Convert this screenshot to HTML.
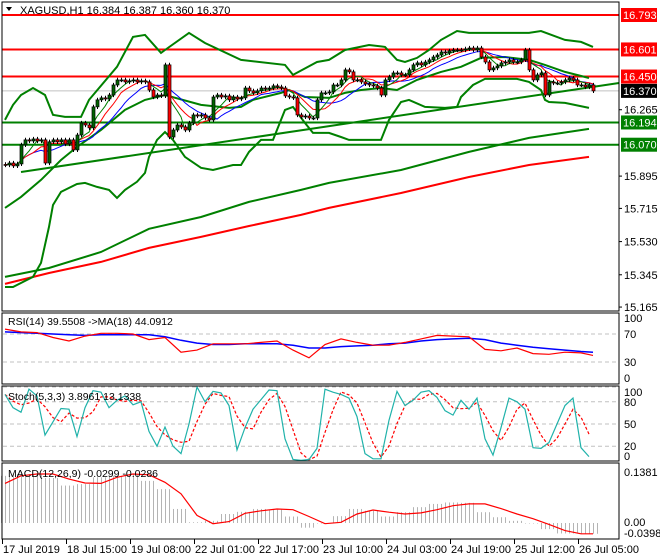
<!DOCTYPE html>
<html><head><meta charset="utf-8"><style>
html,body{margin:0;padding:0;background:#fff;}
svg{display:block;font-family:"Liberation Sans",Arial,sans-serif;}
</style></head><body>
<svg id="chart" width="660" height="560" viewBox="0 0 660 560" xmlns="http://www.w3.org/2000/svg">
<defs>
<pattern id="histPat" patternUnits="userSpaceOnUse" x="0" y="0" width="4" height="10"><rect x="1" y="0" width="1" height="10" fill="#b4b4b4"/></pattern>
</defs>
<rect x="0" y="0" width="660" height="560" fill="#fff"/>
<g id="main"></g>
<g id="rsi"></g>
<g id="stoch"></g>
<g id="macd"></g>
<g id="frames">
<rect x="2" y="2" width="617" height="309" fill="none" stroke="#000"/>
<rect x="2" y="313" width="617" height="71" fill="none" stroke="#000"/>
<rect x="2" y="386" width="617" height="75" fill="none" stroke="#000"/>
<rect x="2" y="463" width="617" height="76" fill="none" stroke="#000"/>
</g>
<g id="axis"></g>
<g id="taxis"></g>
<text x="20" y="14" font-size="11" fill="#000">XAGUSD,H1  16.384 16.387 16.360 16.370</text>
<path d="M6 7 L12 7 L9 11 Z" fill="#000"/>
<text x="8" y="325" font-size="10.5" fill="#000">RSI(14) 39.5508  -&gt;MA(18) 44.0912</text>
<text x="8" y="400" font-size="10.5" fill="#000">Stoch(5,3,3) 3.8961 13.1338</text>
<text x="8" y="477" font-size="10.5" fill="#000">MACD(12,26,9) -0.0299 -0.0286</text>
</svg>
<script>
// ---------- DATA ----------
const closes = [15.957,15.968,15.952,15.963,16.069,16.097,16.091,16.102,16.091,16.097,15.968,16.086,16.097,16.086,16.097,16.074,16.097,16.041,16.124,16.191,
16.180,16.164,16.281,16.320,16.331,16.325,16.347,16.403,16.431,16.431,16.420,16.426,16.431,16.420,16.426,16.420,16.375,16.336,16.347,16.342,
16.515,16.113,16.152,16.180,16.169,16.152,16.191,16.236,16.230,16.236,16.219,16.208,16.336,16.347,16.336,16.342,16.320,16.336,16.325,16.331,
16.386,16.370,16.359,16.370,16.386,16.381,16.386,16.398,16.392,16.386,16.342,16.336,16.331,16.236,16.225,16.230,16.219,16.219,16.320,16.359,
16.359,16.364,16.403,16.403,16.431,16.487,16.476,16.431,16.431,16.420,16.409,16.403,16.398,16.386,16.347,16.431,16.448,16.470,16.470,16.459,
16.459,16.487,16.515,16.526,16.515,16.531,16.543,16.559,16.570,16.587,16.582,16.593,16.598,16.598,16.598,16.604,16.609,16.598,16.609,16.559,
16.531,16.487,16.498,16.509,16.526,16.531,16.543,16.531,16.531,16.543,16.598,16.487,16.431,16.459,16.470,16.347,16.420,16.414,16.414,16.420,
16.431,16.442,16.431,16.403,16.403,16.392,16.403,16.370];
const bbUpIdx = [0,2,4,7,10,12,15,19,21,28,32,35,39,40,46,50,59,70,72,78,81,85,91,95,98,100,103,106,109,113,116,121,131,134,140,144,147];
const bbUpVal = [16.208,16.292,16.347,16.386,16.347,16.236,16.225,16.225,16.320,16.504,16.671,16.682,16.582,16.598,16.693,16.637,16.543,16.515,16.459,16.531,16.543,16.598,16.626,16.615,16.543,16.531,16.554,16.598,16.654,16.704,16.693,16.693,16.693,16.704,16.654,16.643,16.615];
const bbMidIdx = [0,4,9,14,18,24,30,35,40,49,56,59,62,69,71,75,81,85,89,94,98,103,109,114,119,125,131,135,140,146];
const bbMidVal = [15.718,15.779,15.874,15.985,16.058,16.152,16.264,16.320,16.347,16.292,16.275,16.281,16.320,16.359,16.375,16.336,16.331,16.359,16.375,16.386,16.375,16.431,16.476,16.504,16.554,16.559,16.543,16.515,16.476,16.442];
const bbLoIdx = [0,2,7,9,11,12,14,18,20,23,26,28,30,33,35,36,38,40,42,45,49,52,57,59,61,64,67,70,72,75,77,81,84,86,94,96,99,101,105,110,113,114,117,120,128,131,134,135,136,140,146];
const bbLoVal = [15.277,15.277,15.333,15.411,15.612,15.734,15.807,15.851,15.857,15.835,15.818,15.773,15.818,15.863,15.913,16.002,16.097,16.141,16.097,16.002,15.941,15.929,15.957,15.957,16.030,16.097,16.097,16.264,16.281,16.191,16.136,16.136,16.113,16.097,16.097,16.208,16.308,16.320,16.281,16.275,16.281,16.336,16.403,16.437,16.437,16.420,16.375,16.320,16.308,16.303,16.275];
const ma100Idx = [0,11,24,36,49,61,74,81,99,116,131,146];
const ma100Val = [15.333,15.383,15.472,15.601,15.667,15.751,15.818,15.857,15.929,16.030,16.108,16.158];
const ma200Idx = [0,11,24,36,49,61,74,81,99,116,131,146];
const ma200Val = [15.294,15.355,15.417,15.495,15.556,15.617,15.679,15.718,15.801,15.890,15.957,16.002];
const trendIdx = [4,154];
const trendVal = [15.918,16.414];
const redLevels = [16.793,16.601,16.450];
const greenLevels = [16.194,16.070];
const lastPrice = 16.370;
const axisTicks = ["16.265","15.895","15.715","15.530","15.345","15.165"];
// RSI sampled every 4 bars (last at bar 147)
const rsiIdx = [0,4,8,12,16,20,24,28,32,36,40,44,48,52,56,60,64,68,72,76,80,84,88,92,96,100,104,108,112,116,120,124,128,132,136,140,144,147];
const rsiVal = [77,73,72,65,60,67,71,71,70,62,65,44,47,56,56,56,58,60,47,36,55,63,58,54,54,58,63,68,67,66,48,46,50,42,41,44,43,39.5];
const rsiMaVal = [73,72,71,70,69,68,69,69,69,69,66,61,57,55,55,56,56,56,54,50,50,52,53,54,56,57,60,62,63,64,62,57,54,51,49,47,45,44];
// Stochastic main sampled every 2 bars
const stochMain = [90,72,66,97,88,35,53,71,70,33,72,95,93,72,82,88,76,80,40,20,46,20,10,50,100,80,94,92,75,15,45,70,83,96,95,30,2,1,2,17,97,93,90,85,60,10,3,3,55,94,75,82,93,95,86,68,62,82,70,85,30,8,45,85,80,70,18,17,25,50,75,85,18,6];
// MACD sampled every 4 bars
const macdIdx = rsiIdx;
const macdHist = [0.131,0.136,0.136,0.125,0.104,0.108,0.127,0.131,0.136,0.117,0.094,0.039,0.002,0.006,0.025,0.031,0.039,0.037,0.018,-0.013,0,0.019,0.039,0.034,0.018,0.030,0.044,0.053,0.057,0.056,0.030,0.016,0.006,0,-0.017,-0.029,-0.029,-0.030];
const macdSig = [0.110,0.131,0.136,0.136,0.122,0.111,0.110,0.127,0.136,0.134,0.113,0.081,0.021,-0.002,0.004,0.027,0.034,0.039,0.037,0.018,-0.002,0.002,0.025,0.036,0.030,0.025,0.028,0.037,0.048,0.053,0.053,0.040,0.025,0.012,-0.004,-0.021,-0.030,-0.030];
const timeLabels = ["17 Jul 2019","18 Jul 15:00","19 Jul 08:00","22 Jul 01:00","22 Jul 17:00","23 Jul 10:00","24 Jul 03:00","24 Jul 19:00","25 Jul 12:00","26 Jul 05:00"];

// ---------- SCALES ----------
const NS = "http://www.w3.org/2000/svg";
const xb = i => 5 + 4 * i;
const yP = p => 15 + (16.793 - p) * 179.4;
const yR = v => 334 + (70 - v) * 0.7;
const yS = v => 461 - v * 0.74;
const yM = v => 523 - v * 360;
function mk(tag, parent, attrs) {
  const e = document.createElementNS(NS, tag);
  for (const k in attrs) e.setAttribute(k, attrs[k]);
  parent.appendChild(e);
  return e;
}
function poly(parent, xs, ys, color, w, dash) {
  const pts = xs.map((x, k) => x.toFixed(1) + "," + ys[k].toFixed(1)).join(" ");
  const a = { points: pts, fill: "none", stroke: color, "stroke-width": w };
  if (dash) a["stroke-dasharray"] = dash;
  return mk("polyline", parent, a);
}
const main = document.getElementById("main");
const axis = document.getElementById("axis");

// horizontal levels
mk("line", main, { x1: 2, x2: 619, y1: yP(lastPrice), y2: yP(lastPrice), stroke: "#c0c0c0", "stroke-width": 1 });
redLevels.forEach(v => {
  const l = mk("line", main, { x1: 2, x2: 619, y1: yP(v), y2: yP(v), stroke: "#ff0000", "stroke-width": 2 });
  
  
});
greenLevels.forEach(v => {
  const l = mk("line", main, { x1: 2, x2: 619, y1: yP(v), y2: yP(v), stroke: "#008000", "stroke-width": 2 });
  
  
});

// long MAs, bands, trendline
let l;
l = poly(main, ma200Idx.map(xb), ma200Val.map(yP), "#ff0000", 2);


l = poly(main, ma100Idx.map(xb), ma100Val.map(yP), "#008000", 2);


l = poly(main, bbUpIdx.map(xb), bbUpVal.map(yP), "#008000", 2);


l = poly(main, bbMidIdx.map(xb), bbMidVal.map(yP), "#008000", 2);


l = poly(main, bbLoIdx.map(xb), bbLoVal.map(yP), "#008000", 2);


l = mk("line", main, { x1: xb(trendIdx[0]), y1: yP(trendVal[0]), x2: Math.min(619, xb(trendIdx[1])), y2: yP(trendVal[1]), stroke: "#008000", "stroke-width": 2 });



// short SMAs from closes
function sma(n) { return closes.map((c, i) => { const s = closes.slice(Math.max(0, i - n + 1), i + 1); return s.reduce((a, b) => a + b, 0) / s.length; }); }
const idxAll = closes.map((c, i) => i);
[[13, "#0000ff"], [8, "#ff0000"], [5, "#008000"]].forEach(([n, col]) => {
  const p = poly(main, idxAll.map(xb), sma(n).map(yP), col, 1);
  
  
});

// candles
const cg = mk("g", main, {});


closes.forEach((c, i) => {
  const o = i === 0 ? 15.960 : closes[i - 1];
  const hi = Math.max(o, c) + 0.012, lo = Math.min(o, c) - 0.012;
  const x = xb(i);
  const w = mk("line", cg, { x1: x + 0.5, x2: x + 0.5, y1: yP(hi), y2: yP(lo), stroke: "#000", "stroke-width": 1 });
  
  
  const top = yP(Math.max(o, c)), bot = yP(Math.min(o, c));
  const b = mk("rect", cg, { x: x - 1, y: top, width: 3, height: Math.max(1, bot - top), fill: c >= o ? "#006400" : "#ff0000", stroke: "#000", "stroke-width": 0.7 });
  
  
});

// price axis labels
function boxLabel(v, bg, fg) {
  const y = yP(v);
  const r = mk("rect", axis, { x: 621, y: y - 7, width: 36, height: 14, fill: bg });
  
  
  const t = mk("text", axis, { x: 623, y: y + 4, "font-size": 11, fill: fg });
  t.textContent = v.toFixed(3);
  
  
}
axisTicks.forEach(s => {
  const v = parseFloat(s);
  const t = mk("text", axis, { x: 624, y: yP(v) + 4, "font-size": 11, fill: "#000" });
  t.textContent = s;
  
  
  mk("line", axis, { x1: 619, x2: 622, y1: yP(v), y2: yP(v), stroke: "#000" });
});
redLevels.forEach(v => boxLabel(v, "#ff0000", "#fff"));
greenLevels.forEach(v => boxLabel(v, "#008000", "#fff"));
boxLabel(lastPrice, "#000", "#fff");

// ---------- RSI ----------
const rsi = document.getElementById("rsi");
[70, 30].forEach(v => mk("line", rsi, { x1: 3, x2: 618, y1: yR(v), y2: yR(v), stroke: "#c0c0c0", "stroke-dasharray": "4,3" }));
l = poly(rsi, rsiIdx.map(xb), rsiMaVal.map(yR), "#0000ff", 1.5);


l = poly(rsi, rsiIdx.map(xb), rsiVal.map(yR), "#ff0000", 1.2);


[["100", 100], ["70", 70], ["30", 30], ["0", 0]].forEach(([s, v]) => {
  const t = mk("text", rsi, { x: 624, y: Math.min(382, Math.max(322, yR(v) + 4)), "font-size": 11, fill: "#000" });
  t.textContent = s;
  
  
});

// ---------- STOCH ----------
const st = document.getElementById("stoch");
[100, 80, 50, 20, 0].forEach(v => mk("line", st, { x1: 3, x2: 618, y1: yS(v), y2: yS(v), stroke: "#c0c0c0", "stroke-dasharray": "4,3" }));
const stIdx = stochMain.map((v, k) => 2 * k);
const stSig = stochMain.map((v, k) => { const s = stochMain.slice(Math.max(0, k - 2), k + 1); return s.reduce((a, b) => a + b, 0) / s.length; });
l = poly(st, stIdx.map(xb), stSig.map(yS), "#ff0000", 1.2, "3,2");


l = poly(st, stIdx.map(xb), stochMain.map(yS), "#20b2aa", 1.2);


[["100", 100], ["80", 80], ["50", 50], ["20", 20], ["0", 0]].forEach(([s, v]) => {
  const t = mk("text", st, { x: 624, y: Math.min(460, Math.max(396, yS(v) + 4)), "font-size": 11, fill: "#000" });
  t.textContent = s;
  
  
});

// ---------- MACD ----------
const md = document.getElementById("macd");
macdHist.forEach((v, k) => {
  const x = xb(macdIdx[k]) - 8;
  const y0 = yM(0), y1 = yM(v);
  const r = mk("rect", md, { x: x, y: Math.min(y0, y1), width: 16, height: Math.max(0.5, Math.abs(y1 - y0)), fill: "url(#histPat)" });
  
  
});
l = poly(md, macdIdx.map(xb), macdSig.map(yM), "#ff0000", 1.2);


[["0.1381", 476], ["0.00", 526], ["-0.0398", 537]].forEach(([s, y]) => {
  const t = mk("text", md, { x: 624, y: y, "font-size": 11, fill: "#000" });
  t.textContent = s;
  
  
});

// ---------- TIME AXIS ----------
const ta = document.getElementById("taxis");
timeLabels.forEach((s, k) => {
  const x = 2 + 64 * k;
  mk("line", ta, { x1: x + 0.5, x2: x + 0.5, y1: 539, y2: 544, stroke: "#000" });
  const t = mk("text", ta, { x: x + 1, y: 553, "font-size": 11, fill: "#000" });
  t.textContent = s;
  
  
});
</script>
</body></html>
